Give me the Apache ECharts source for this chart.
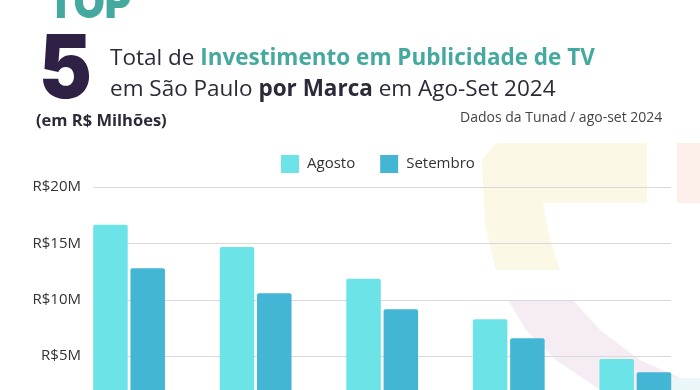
<!DOCTYPE html>
<html>
<head>
    <meta charset="utf-8">
    <title>Top 5 TV</title>
    <script src="https://cdn.jsdelivr.net/npm/echarts@6/dist/echarts.min.js"></script>
    <style>
        html, body { margin: 0; padding: 0; background: #fff; }
        #main { width: 700px; height: 390px; }
    </style>
</head>
<body>
<div id="main"></div>
<script type="text/javascript">
    // dados (R$ milhões)
    var marcas = ['1º', '2º', '3º', '4º', '5º'];
    var agosto = [16.65, 14.67, 11.86, 8.28, 4.75];
    var setembro = [12.8, 10.58, 9.16, 6.59, 3.57];
    var yTicks = [0, 5, 10, 15, 20];

    var font = '"Open Sans", "Noto Sans", sans-serif';
    var teal = '#45A9A0';
    var dark = '#2B2A38';

    var chart = echarts.init(document.getElementById('main'));

    var option = {
        backgroundColor: '#fff',
        textStyle: { fontFamily: font },
        graphic: [
            // fundo decorativo
            { type: 'polygon', z: -10, silent: true,
              shape: { points: [[496, 143], [647, 143], [647, 203], [543, 203], [549, 235], [560, 270], [496, 270], [485, 225], [482, 160]] },
              style: { fill: '#FBF8E5' } },
            { type: 'rect', z: -10, silent: true,
              shape: { x: 677, y: 143, width: 23, height: 60 },
              style: { fill: '#FDEFE9' } },
            { type: 'polygon', z: -10, silent: true,
              shape: { points: [[508, 300], [573, 300], [600, 330], [640, 360], [690, 382], [690, 390], [600, 390], [556, 360], [526, 330]] },
              style: { fill: '#F6EDF4' } },
            { type: 'rect', z: -10, silent: true,
              shape: { x: 672, y: 378, width: 28, height: 12 },
              style: { fill: '#EAF6F8' } },
            // título
            { type: 'text', x: 47, y: -19, scaleX: 0.88,
              style: { text: 'TOP', font: '900 46px Inter, Lato, sans-serif', fill: teal } },
            { type: 'text', x: 39, y: 28, scaleX: 0.9,
              style: { text: '5', font: '900 88px Inter, Lato, sans-serif', fill: '#2F2045' } },
            { type: 'text', left: 110, top: 47,
              style: {
                  text: '{r|Total de }{t|Investimento em Publicidade de TV}',
                  rich: {
                      r: { font: '400 22.5px ' + font, fill: dark },
                      t: { font: '700 22.5px ' + font, fill: teal }
                  }
              } },
            { type: 'text', left: 110, top: 78,
              style: {
                  text: '{r|em São Paulo }{b|por Marca}{r| em Ago-Set 2024}',
                  rich: {
                      r: { font: '400 22.5px ' + font, fill: dark },
                      b: { font: '700 22.5px ' + font, fill: dark }
                  }
              } },
            { type: 'text', left: 36, top: 113,
              style: { text: '(em R$ Milhões)', font: '700 16.5px ' + font, fill: dark } },
            { type: 'text', left: 460, top: 111,
              style: { text: 'Dados da Tunad / ago-set 2024', font: '400 14px ' + font, fill: '#444' } }
        ],
        legend: {
            data: ['Agosto', 'Setembro'],
            left: 281,
            top: 155,
            padding: 0,
            icon: 'rect',
            itemWidth: 18,
            itemHeight: 18,
            itemGap: 25,
            textStyle: { fontSize: 15, color: '#333', fontFamily: font, padding: [0, 0, 0, 3] }
        },
        grid: [
            { left: 65.8, right: 1.4, top: 187, bottom: -22.5, outerBoundsMode: 'none' },
            { left: 93, right: 29, top: 187, bottom: -22.5, outerBoundsMode: 'none' }
        ],
        xAxis: [
            { type: 'category', gridIndex: 0, data: marcas, show: false },
            { type: 'category', gridIndex: 1, data: marcas, show: false }
        ],
        yAxis: [
            { type: 'value', gridIndex: 0, min: 0, max: 20, interval: 5, show: false },
            { type: 'value', gridIndex: 1, min: yTicks[0], max: yTicks[yTicks.length - 1], interval: 5,
              z: 0,
              axisLine: { show: false },
              axisTick: { show: false },
              axisLabel: {
                  margin: 12, fontSize: 15, color: '#333', fontFamily: font,
                  formatter: function (v) { return 'R$' + v + 'M'; }
              },
              splitLine: { lineStyle: { color: '#D9D9D9', width: 1 } } }
        ],
        series: [
            { name: 'Agosto', type: 'bar', xAxisIndex: 0, yAxisIndex: 0, data: agosto,
              barWidth: 34.5, barGap: '8%', z: 5,
              itemStyle: { color: '#6CE3E6', borderRadius: [2, 2, 0, 0] } },
            { name: 'Setembro', type: 'bar', xAxisIndex: 0, yAxisIndex: 0, data: setembro,
              barWidth: 34.5, barGap: '8%', z: 5,
              itemStyle: { color: '#42B6D4', borderRadius: [2, 2, 0, 0] } }
        ]
    };

    chart.setOption(option);
</script>
</body>
</html>
